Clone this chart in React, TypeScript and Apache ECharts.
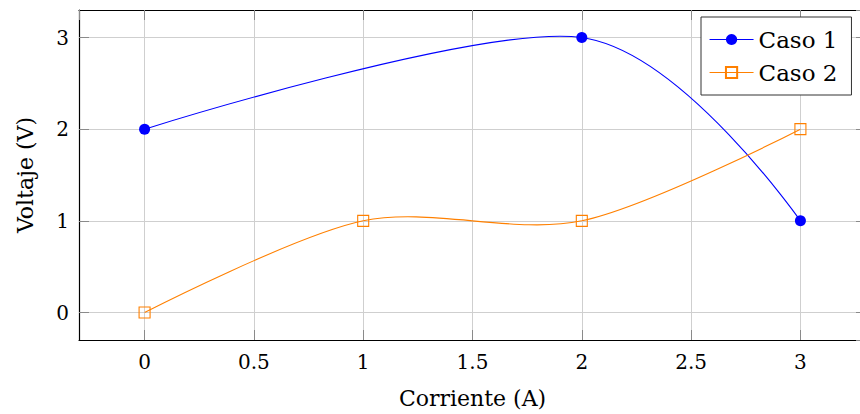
import React, { useEffect, useRef } from "react";
import * as echarts from "echarts";

const caso1X = [0, 2, 3];
const caso1Y = [2, 3, 1];
const caso2X = [0, 1, 2, 3];
const caso2Y = [0, 1, 1, 2];
const seriesNames = ["Caso 1", "Caso 2"];
const xTitle = "Corriente (A)";
const yTitle = "Voltaje (V)";

const FONT = "DejaVu Serif";
const BLUE = "#0000ff";
const ORANGE = "#ff8000";

function makeCurve(id: string, xs: number[], ys: number[], color: string) {
  return {
    type: "custom",
    name: id,
    silent: true,
    z: 2,
    data: xs.map((x, i) => [x, ys[i]]),
    renderItem: (params: any, api: any) => {
      const i = params.dataIndex;
      if (i >= xs.length - 1) return null;
      const P = xs.map((x, k) => api.coord([x, ys[k]]));
      const n = P.length;
      const f = 0.1526;
      const tan = (k: number) =>
        k === 0 || k === n - 1
          ? [0, 0]
          : [P[k + 1][0] - P[k - 1][0], P[k + 1][1] - P[k - 1][1]];
      const a = P[i];
      const b = P[i + 1];
      const ta = tan(i);
      const tb = tan(i + 1);
      return {
        type: "bezierCurve",
        shape: {
          x1: a[0],
          y1: a[1],
          cpx1: a[0] + f * ta[0],
          cpy1: a[1] + f * ta[1],
          cpx2: b[0] - f * tb[0],
          cpy2: b[1] - f * tb[1],
          x2: b[0],
          y2: b[1],
        },
        style: { stroke: color, lineWidth: 1.1, fill: "none" },
      };
    },
  };
}

export default function App() {
  const ref = useRef<HTMLDivElement>(null);
  useEffect(() => {
    if (!ref.current) return;
    const chart = echarts.init(ref.current, null, { renderer: "svg" });
    const gridCol = "#cfcfcf";
    const tickCol = "#8a8a8a";
    const common = {
      type: "value",
      min: -0.3,
      max: 3.3,
      axisLine: { show: true, onZero: false, lineStyle: { color: "#000", width: 1.2 } },
      axisTick: { show: true, inside: true, length: 10, lineStyle: { color: tickCol, width: 1 } },
    };
    const xCommon = { ...common, splitNumber: 7, minInterval: 0.5, maxInterval: 0.5 };
    const yCommon = { ...common, minInterval: 1, maxInterval: 1 };
    chart.setOption({
      animation: false,
      backgroundColor: "#fff",
      textStyle: { fontFamily: FONT },
      grid: { left: 79, top: 10, width: 787, height: 335, containLabel: false },
      legend: {
        orient: "vertical",
        left: 701,
        top: 17,
        padding: [11, 14, 11, 8],
        itemGap: 10,
        itemWidth: 44,
        itemHeight: 14,
        borderColor: "#333",
        borderWidth: 1,
        backgroundColor: "#fff",
        textStyle: { fontFamily: FONT, fontSize: 23, color: "#000" },
        data: [
          { name: seriesNames[0], lineStyle: { opacity: 1, width: 1.1, color: BLUE } },
          { name: seriesNames[1], lineStyle: { opacity: 1, width: 1.1, color: ORANGE } },
        ],
      },
      xAxis: [
        {
          ...xCommon,
          position: "bottom",
          name: xTitle,
          nameLocation: "middle",
          nameGap: 47,
          nameTextStyle: { fontFamily: FONT, fontSize: 22, color: "#000" },
          axisLabel: { show: true, showMinLabel: false, showMaxLabel: false, margin: 12, fontFamily: FONT, fontSize: 20, color: "#000" },
          splitLine: { show: true, lineStyle: { color: gridCol, width: 1 } },
        },
        {
          ...xCommon,
          position: "top",
          axisLabel: { show: false },
          splitLine: { show: false },
        },
      ],
      yAxis: [
        {
          ...yCommon,
          position: "left",
          name: yTitle,
          nameLocation: "middle",
          nameGap: 43,
          nameRotate: 90,
          nameTextStyle: { fontFamily: FONT, fontSize: 22, color: "#000" },
          axisLabel: { show: true, showMinLabel: false, showMaxLabel: false, margin: 10, fontFamily: FONT, fontSize: 20, color: "#000" },
          splitLine: { show: true, lineStyle: { color: gridCol, width: 1 } },
        },
        {
          ...yCommon,
          position: "right",
          axisLabel: { show: false },
          splitLine: { show: false },
        },
      ],
      series: [
        makeCurve("curve1", caso1X, caso1Y, BLUE),
        makeCurve("curve2", caso2X, caso2Y, ORANGE),
        {
          name: seriesNames[0],
          type: "line",
          data: caso1X.map((x, i) => [x, caso1Y[i]]),
          symbol: "circle",
          symbolSize: 11,
          lineStyle: { color: BLUE, width: 0, opacity: 0 },
          itemStyle: { color: BLUE },
          z: 4,
        },
        {
          name: seriesNames[1],
          type: "line",
          data: caso2X.map((x, i) => [x, caso2Y[i]]),
          symbol: "rect",
          symbolSize: 11,
          lineStyle: { color: ORANGE, width: 0, opacity: 0 },
          itemStyle: { color: "rgba(0,0,0,0)", borderColor: ORANGE, borderWidth: 1.1 },
          z: 3,
        },
      ],
    });
    return () => chart.dispose();
  }, []);
  return (
    <div style={{ position: "fixed", left: 0, top: 0, width: 860, height: 414, overflow: "hidden" }}>
      <div ref={ref} style={{ width: 870, height: 414 }} />
    </div>
  );
}
